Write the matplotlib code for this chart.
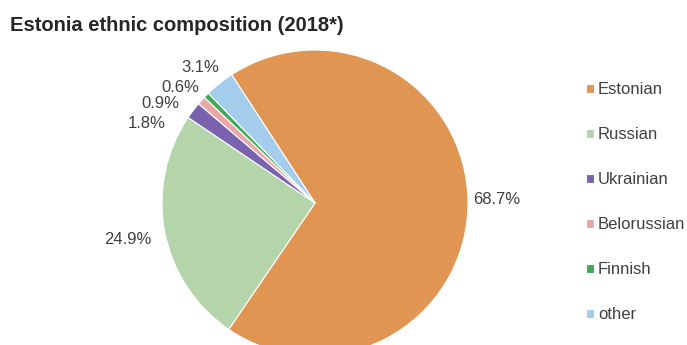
import matplotlib.pyplot as plt
import numpy as np

plt.rcParams['font.family'] = ['Liberation Sans', 'DejaVu Sans']

## Data
groups = ['Estonian', 'Russian', 'Ukrainian', 'Belorussian', 'Finnish', 'other']
shares = [68.7, 24.9, 1.8, 0.9, 0.6, 3.1]
colors = ['#E09552', '#B3D5A9', '#7A62AE', '#EBA7A7', '#3DAA55', '#A3CDEB']

## label spots, pixel coords from top-left
label_xy = [(497, 200), (128, 240), (147, 124), (160, 104), (180, 87), (200, 68)]

W, H = 687, 345
fig = plt.figure(figsize=(W / 100, H / 100), dpi=100)
ax = fig.add_axes([0, 0, 1, 1])

wedges, texts, autotexts = ax.pie(shares, colors=colors, startangle=123, counterclock=False,
                                  center=(315, H - 203), radius=153, autopct='%.1f%%',
                                  wedgeprops=dict(edgecolor='white', linewidth=0.8),
                                  textprops=dict(fontsize=12, color='#404040'))
for t, (x, y) in zip(autotexts, label_xy):
    t.set_position((x, H - y))
    t.set_ha('center')
    t.set_va('center')

ax.set_xlim(0, W)
ax.set_ylim(0, H)
ax.set_aspect('equal')
ax.axis('off')

fig.text(10 / W, 1 - 31 / H, 'Estonia ethnic composition (2018*)', fontsize=14.5,
         fontweight='bold', color='#262626', va='baseline', ha='left')

leg = fig.legend(wedges, groups, loc='upper left', bbox_to_anchor=(578 / W, 1 - 74 / H),
                 frameon=False, fontsize=12, handlelength=0.45, handleheight=0.45,
                 handletextpad=0.25, labelspacing=1.80, borderpad=0)
for t in leg.get_texts():
    t.set_color('#404040')

plt.savefig('out.png', dpi=100)
